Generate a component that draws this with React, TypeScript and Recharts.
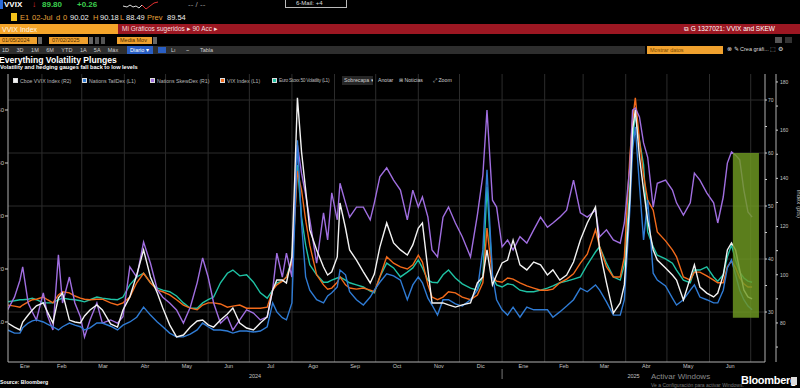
import React from "react";
import { ComposedChart, Line, XAxis, YAxis, ReferenceLine, ReferenceArea } from "recharts";

/* -------------------------------------------------------------------------- */
/*  Data — days since 1 Jan 2024                    */
/* -------------------------------------------------------------------------- */

const dayIdx = [
  6, 11, 15, 17, 21, 24, 27, 32, 35, 39,
  43, 46, 51, 55, 59, 62, 66, 71, 75, 81,
  86, 90, 95, 100, 105, 110, 115, 119, 124, 129,
  134, 139, 144, 148, 152, 156, 161, 166, 170, 175,
  180, 185, 190, 195, 199, 202, 206, 209, 213, 215,
  217, 220, 223, 226, 231, 236, 239, 242, 246, 248,
  252, 255, 260, 265, 270, 273, 277, 282, 287, 292,
  297, 301, 305, 308, 312, 315, 319, 323, 327, 332,
  337, 343, 348, 352, 355, 359, 362, 366, 370, 374,
  379, 384, 389, 394, 399, 403, 408, 413, 418, 423,
  428, 434, 437, 442, 447, 452, 455, 459, 461, 463,
  466, 469, 472, 476, 479, 485, 490, 493, 498, 503,
  506, 510, 515, 520, 523, 527, 530, 533, 536, 539,
  542, 545, 548,
];

// Cboe VVIX Index (R2)
const vvix = [
  80.0, 78.3, 77.1, 80.4, 83.3, 85.4, 87.1, 88.3, 84.6, 80.0,
  90.4, 92.4, 81.2, 80.4, 80.0, 82.9, 85.4, 87.5, 85.4, 79.6,
  78.3, 85.4, 90.8, 99.9, 110.3, 99.1, 92.4, 86.2, 79.2, 74.2,
  75.0, 78.3, 80.8, 81.2, 79.2, 78.3, 81.2, 83.7, 86.2, 80.0,
  77.9, 77.1, 80.0, 82.5, 93.7, 97.8, 97.8, 96.6, 107.4, 139.3,
  173.4, 151.0, 135.2, 118.6, 110.3, 103.2, 99.9, 101.2, 107.4, 129.8,
  119.4, 110.3, 106.1, 101.2, 96.6, 100.3, 111.5, 121.5, 113.2, 110.3,
  108.2, 112.4, 119.4, 121.5, 102.0, 88.3, 88.3, 88.3, 87.5, 86.6,
  87.5, 88.3, 96.6, 99.1, 110.3, 95.8, 99.9, 104.9, 106.1, 114.4,
  104.1, 102.0, 105.3, 104.1, 99.9, 102.0, 97.8, 99.9, 105.3, 114.4,
  121.5, 128.1, 110.3, 96.6, 84.1, 88.3, 95.8, 131.0, 160.1, 168.4,
  148.9, 135.2, 122.7, 110.3, 106.1, 102.8, 99.9, 97.8, 89.5, 98.7,
  104.1, 94.9, 92.4, 90.8, 92.4, 99.9, 110.3, 113.2, 110.3, 102.0,
  93.7, 90.8, 90.0,
];

// Nations TailDex (L1)
const tailDex = [
  8.5, 7.9, 7.9, 8.9, 9.8, 10.2, 10.4, 10.0, 9.6, 9.1,
  8.5, 9.1, 9.8, 9.4, 9.1, 8.5, 8.9, 9.8, 9.8, 9.2,
  8.5, 9.4, 10.0, 10.9, 12.8, 11.3, 10.0, 9.1, 7.9, 7.2,
  7.2, 7.7, 8.5, 9.8, 9.1, 8.5, 8.5, 8.3, 7.9, 8.3,
  8.3, 8.1, 8.3, 9.1, 13.6, 11.9, 10.8, 10.4, 13.6, 28.7,
  44.3, 28.7, 18.5, 16.0, 14.2, 13.6, 14.9, 15.5, 16.6, 19.8,
  18.9, 15.7, 14.2, 13.2, 14.7, 16.0, 17.5, 19.1, 18.7, 17.9,
  14.2, 17.0, 18.5, 17.4, 14.5, 13.2, 11.3, 14.2, 14.2, 13.4,
  13.0, 14.2, 16.0, 23.6, 38.7, 18.9, 14.2, 12.3, 11.3, 12.8,
  10.9, 12.8, 12.3, 12.3, 12.3, 10.9, 11.9, 13.0, 14.2, 16.4,
  15.7, 17.0, 16.0, 13.8, 11.3, 11.3, 14.2, 31.1, 42.5, 46.8,
  35.8, 25.5, 33.0, 19.2, 17.9, 16.8, 14.5, 13.2, 14.2, 16.0,
  17.0, 14.7, 14.2, 13.6, 13.6, 16.0, 20.2, 21.7, 18.9, 16.0,
  14.2, 13.0, 12.3,
];

// Nations SkewDex (R1)
const skewDex = [
  30.4, 32.8, 36.0, 38.5, 31.7, 30.0, 28.5, 33.6, 29.4, 26.6,
  40.8, 31.7, 36.6, 31.7, 29.1, 25.3, 28.5, 31.7, 27.9, 28.5,
  27.9, 29.1, 38.5, 36.6, 43.2, 39.2, 34.2, 32.8, 31.7, 30.4,
  27.9, 30.9, 35.5, 40.2, 36.6, 31.7, 27.9, 29.1, 26.6, 28.5,
  30.4, 29.8, 28.5, 29.1, 34.2, 41.1, 36.6, 41.1, 36.6, 50.6,
  61.5, 56.2, 52.1, 47.4, 39.2, 48.7, 43.6, 52.5, 47.4, 54.3,
  50.6, 47.9, 49.8, 49.8, 47.4, 50.6, 55.5, 57.2, 54.9, 53.0,
  47.4, 53.0, 49.8, 51.7, 47.9, 41.7, 40.4, 47.9, 49.8, 46.8,
  44.2, 40.4, 48.3, 55.8, 68.1, 51.1, 49.8, 42.3, 43.6, 41.7,
  44.2, 43.0, 45.5, 47.9, 46.0, 46.8, 47.9, 49.2, 54.9, 48.7,
  47.9, 49.2, 44.2, 45.5, 43.6, 43.0, 46.8, 57.4, 68.1, 68.5,
  66.8, 61.9, 59.2, 49.8, 54.3, 54.9, 53.0, 50.6, 48.3, 50.6,
  56.2, 54.9, 52.5, 50.6, 46.8, 51.7, 58.1, 60.2, 59.6, 58.7,
  53.0, 48.9, 47.9,
];

// VIX Index (L1)
const vix = [
  13.2, 13.0, 12.8, 13.2, 13.8, 14.2, 14.3, 14.7, 14.2, 13.6,
  15.1, 15.7, 15.5, 14.9, 14.5, 14.3, 14.2, 14.3, 14.3, 13.6,
  13.2, 13.6, 14.7, 17.4, 19.2, 17.4, 16.0, 15.7, 15.1, 14.2,
  13.2, 12.6, 12.3, 13.2, 13.6, 13.6, 13.4, 12.8, 13.0, 13.2,
  12.6, 12.6, 12.6, 12.8, 16.0, 17.0, 17.7, 18.5, 21.1, 29.2,
  38.5, 34.9, 29.2, 24.5, 18.9, 17.0, 16.2, 16.4, 17.5, 18.5,
  17.0, 16.4, 16.2, 16.4, 16.0, 15.7, 18.5, 22.3, 21.1, 20.4,
  20.0, 20.8, 22.6, 21.3, 17.0, 14.7, 14.2, 14.7, 15.7, 15.5,
  14.7, 14.2, 15.1, 17.4, 27.7, 18.5, 17.7, 17.5, 18.3, 18.1,
  17.4, 16.8, 16.4, 16.0, 16.0, 16.2, 17.4, 18.1, 19.1, 21.1,
  22.8, 27.4, 24.2, 20.4, 18.5, 18.5, 22.3, 41.1, 48.1, 52.3,
  44.3, 37.7, 33.0, 31.1, 27.0, 25.3, 23.6, 22.3, 18.5, 17.9,
  19.4, 19.4, 18.7, 17.9, 17.4, 17.4, 20.4, 21.5, 20.2, 18.3,
  17.2, 16.6, 16.6,
];

// Euro Stoxx 50 Volatility (L1)
const v2x = [
  13.8, 14.0, 14.2, 14.2, 14.3, 14.5, 14.2, 13.6, 13.6, 13.6,
  14.2, 14.5, 14.3, 14.2, 14.0, 13.8, 14.2, 14.7, 14.5, 14.3,
  14.2, 14.7, 17.0, 18.5, 19.2, 17.4, 16.4, 16.0, 15.7, 14.9,
  13.6, 12.6, 12.6, 13.6, 14.2, 14.7, 17.4, 19.2, 19.8, 18.7,
  18.9, 17.5, 15.5, 14.5, 16.0, 17.4, 17.7, 18.5, 21.7, 31.1,
  39.6, 29.8, 24.5, 20.8, 18.9, 17.5, 17.5, 17.9, 18.3, 18.5,
  17.9, 17.4, 17.0, 16.6, 15.8, 15.5, 18.5, 21.1, 20.2, 18.5,
  19.4, 20.2, 21.7, 20.2, 17.9, 17.5, 17.4, 18.9, 19.8, 18.3,
  17.2, 16.4, 16.0, 18.5, 35.5, 18.5, 17.0, 16.6, 17.2, 17.0,
  16.0, 15.7, 15.7, 16.0, 16.4, 16.8, 17.4, 17.7, 18.1, 18.5,
  20.8, 23.2, 24.2, 21.1, 18.5, 17.9, 20.8, 34.9, 44.3, 49.1,
  44.3, 39.6, 27.0, 24.2, 22.6, 21.9, 21.1, 19.8, 17.9, 17.4,
  19.8, 19.8, 20.4, 18.5, 17.7, 18.9, 22.3, 24.5, 21.7, 19.4,
  18.3, 17.7, 17.5,
];

const monthLabels = [
  "Ene", "Feb", "Mar", "Abr", "May", "Jun", "Jul", "Ago", "Sep",
  "Oct", "Nov", "Dic", "Ene", "Feb", "Mar", "Abr", "May", "Jun",
];
const yearLabels = ["2024", "2025"];

const leftTicks = [10, 20, 30, 40, 50];
const r1Ticks = [30, 35, 40, 45, 50, 55, 60, 65, 70];
const r2Ticks = [70, 80, 90, 100, 110, 120, 130, 140, 150, 160, 170, 180];

// highlighted window at the end (late June 2025)
const highlight = { x1: 534, x2: 553, y1: 28.9, y2: 60 };

/* -------------------------------------------------------------------------- */
/*  Derived                                                                    */
/* -------------------------------------------------------------------------- */

const DAY0 = Date.UTC(2024, 0, 1);
const toDay = (y: number, m: number) => (Date.UTC(y, m, 1) - DAY0) / 86400000;

const X_DOMAIN: [number, number] = [6.3, 557.4];
const monthStarts = Array.from({ length: 19 }, (_, i) => toDay(2024, i));
const monthMids = monthLabels.map(
  (_, i) =>
    (Math.max(monthStarts[i], X_DOMAIN[0]) + Math.min(monthStarts[i + 1], X_DOMAIN[1])) / 2
);
const yearStart2025 = toDay(2025, 0);
const yearTicks = [
  (X_DOMAIN[0] + yearStart2025) / 2,
  yearStart2025,
  (yearStart2025 + X_DOMAIN[1]) / 2,
];

const data = dayIdx.map((d, i) => ({
  d,
  vvix: vvix[i],
  tailDex: tailDex[i],
  skewDex: skewDex[i],
  vix: vix[i],
  v2x: v2x[i],
}));

const series = [
  { key: "v2x", name: "Euro Stoxx 50 Volatility (L1)", color: "#1fc2a4", axis: "L" },
  { key: "vix", name: "VIX Index (L1)", color: "#f26a1b", axis: "L" },
  { key: "skewDex", name: "Nations SkewDex (R1)", color: "#a06ee0", axis: "R1" },
  { key: "tailDex", name: "Nations TailDex (L1)", color: "#2f7bd4", axis: "L" },
  { key: "vvix", name: "Cboe VVIX Index (R2)", color: "#f2f2f2", axis: "R2" },
];
const legendOrder = ["vvix", "tailDex", "skewDex", "vix", "v2x"];

/* -------------------------------------------------------------------------- */
/*  Small UI bits                                                              */
/* -------------------------------------------------------------------------- */

const FONT = "'Liberation Sans', Arial, sans-serif";
const AXIS_TXT = "#c4c4c4";

function Txt({ x, y, size = 6, color = "#ddd", bold = false, children, style = {} }: any) {
  return (
    <div
      style={{
        position: "absolute",
        left: x,
        top: y,
        fontSize: size,
        color,
        fontWeight: bold ? 700 : 400,
        whiteSpace: "nowrap",
        lineHeight: 1,
        ...style,
      }}
    >
      {children}
    </div>
  );
}

function Box({ x, y, w, h, bg, children, style = {} }: any) {
  return (
    <div
      style={{
        position: "absolute",
        left: x,
        top: y,
        width: w,
        height: h,
        background: bg,
        overflow: "hidden",
        whiteSpace: "nowrap",
        ...style,
      }}
    >
      {children}
    </div>
  );
}

function YearTick({ x, y, payload }: any) {
  if (payload.value === yearStart2025) {
    return <line x1={x} x2={x} y1={y - 5} y2={y + 5} stroke="#777" strokeWidth={1} />;
  }
  return (
    <text x={x} y={y} dy="0.71em" textAnchor="middle" fontSize={5.5} fill={AXIS_TXT}>
      {payload.value < yearStart2025 ? yearLabels[0] : yearLabels[1]}
    </text>
  );
}

function Header() {
  const lab = "#e8a23a";
  const legendX = [13, 82, 150, 220, 272];
  return (
    <>
      {/* row 1 */}
      <Box x={0} y={0} w={3} h={9} bg="#2a6ad8" />
      <Txt x={4} y={1} size={8} color="#fff" bold>VVIX</Txt>
      <Txt x={32} y={1} size={8} color="#e03030" bold>↓</Txt>
      <Txt x={42} y={1} size={8} color="#3ccf4e" bold>89.80</Txt>
      <Txt x={77} y={1} size={8} color="#3ccf4e" bold>+0.26</Txt>
      <svg style={{ position: "absolute", left: 123, top: 0 }} width={36} height={11}>
        <path d="M0 6 L4 7 L7 5 L10 7 L13 6 L16 8 L19 5" stroke="#ddd" fill="none" strokeWidth={1} />
        <path d="M19 5 L23 9 L27 6 L31 3 L35 2" stroke="#e03030" fill="none" strokeWidth={1} />
      </svg>
      <Txt x={188} y={1} size={8} color="#999">-- / --</Txt>
      <Box x={285} y={-2} w={62} h={10} bg="#000" style={{ border: "1px solid #bbb", boxSizing: "border-box" }}>
        <Txt x={10} y={1} size={6} color="#ddd">6-Mail: +4</Txt>
      </Box>

      {/* row 2 */}
      <Box x={11} y={13} w={6} h={8} bg="#f4c21b" />
      <Txt x={20} y={14} size={7.5} color={lab}>E1</Txt>
      <Txt x={32} y={14} size={7.5} color={lab}>02-Jul</Txt>
      <Txt x={56} y={14} size={7.5} color={lab}>d</Txt>
      <Txt x={63} y={14} size={7.5} color={lab}>0</Txt>
      <Txt x={70} y={14} size={7.5} color="#eee">90.02</Txt>
      <Txt x={93} y={14} size={7.5} color={lab}>H</Txt>
      <Txt x={100} y={14} size={7.5} color="#eee">90.18</Txt>
      <Txt x={120} y={14} size={7.5} color={lab}>L</Txt>
      <Txt x={126} y={14} size={7.5} color="#eee">88.49</Txt>
      <Txt x={147} y={14} size={7.5} color={lab}>Prev</Txt>
      <Txt x={167} y={14} size={7.5} color="#eee">89.54</Txt>

      {/* row 3 */}
      <Box x={0} y={24} w={118} h={10} bg="#f5a52a">
        <Txt x={2} y={2} size={7} color="#fff6e6">VVIX Index</Txt>
      </Box>
      <Box x={118} y={24} w={682} h={10} bg="#9c1722">
        <Txt x={4} y={2} size={6.5} color="#f3dede">Mi Gráficos sugeridos ▸  90 Acc ▸</Txt>
        <Txt x={566} y={2} size={6.5} color="#fff">⧉  G 1327021: VVIX and SKEW</Txt>
      </Box>

      {/* row 4 */}
      <Box x={0} y={37} w={37} h={7} bg="#f0a12e">
        <Txt x={2} y={1} size={5.5} color="#4a2a00">01/05/2024</Txt>
      </Box>
      <Box x={38} y={37} w={4} h={7} bg="#666" />
      <Box x={49} y={37} w={39} h={7} bg="#f0a12e">
        <Txt x={3} y={1} size={5.5} color="#4a2a00">07/02/2025</Txt>
      </Box>
      <Box x={89} y={37} w={4} h={7} bg="#666" />
      <Box x={95} y={37} w={4} h={7} bg="#555" />
      <Box x={101} y={37} w={4} h={7} bg="#555" />
      <Box x={117} y={37} w={35} h={7} bg="#f0a12e">
        <Txt x={3} y={1} size={5.5} color="#4a2a00">Media Mov</Txt>
      </Box>
      <Box x={153} y={37} w={4} h={7} bg="#666" />
      <Box x={775} y={37} w={7} h={6} bg="#555" />
      <Box x={785} y={37} w={7} h={6} bg="#333" />

      {/* row 5 */}
      <Box x={0} y={46} w={645} h={8} bg="#2e2e2e">
        <Txt x={2} y={1.5} size={5.5} color="#cfcfcf" style={{ wordSpacing: 6 }}>
          1D 3D 1M 6M YTD 1A 5A Máx
        </Txt>
        <Box x={127} y={0} w={26} h={8} bg="#2a5fc4">
          <Txt x={3} y={1.5} size={5.5} color="#fff">Diario ▾</Txt>
        </Box>
        <Box x={158} y={1} w={8} h={6} bg="#2a5fc4" />
        <Txt x={171} y={1.5} size={5.5} color="#cfcfcf">Lı</Txt>
        <Txt x={186} y={1.5} size={5.5} color="#cfcfcf">~</Txt>
        <Txt x={200} y={1.5} size={5.5} color="#cfcfcf">Tabla</Txt>
      </Box>
      <Box x={647} y={46} w={76} h={8} bg="#f0a12e">
        <Txt x={3} y={1.5} size={5.5} color="#7a4a00">Mostrar datos</Txt>
      </Box>
      <Txt x={727} y={47} size={5.5} color="#ddd">⊗ ✎ Crea gráfi...  ⬚  ⚙</Txt>

      {/* titles */}
      <Txt x={-1} y={55.5} size={8.6} color="#fff" bold>Everything Volatility Plunges</Txt>
      <Txt x={0} y={65} size={5.6} color="#fff" bold>
        Volatility and hedging gauges fall back to low levels
      </Txt>

      {/* legend */}
      {legendOrder.map((k, i) => {
        const s = series.find((x) => x.key === k)!;
        const lx = legendX[i];
        const last = i === legendOrder.length - 1;
        return (
          <React.Fragment key={k}>
            <Box x={lx} y={78} w={5} h={5} bg={s.color} style={{ border: "0.5px solid #ddd", boxSizing: "border-box" }} />
            <Txt
              x={lx + 7}
              y={78.5}
              size={last ? 4.8 : 5.2}
              color="#b8b8b8"
              style={last ? { letterSpacing: -0.3 } : {}}
            >
              {last ? s.name : s.name.replace(" (", "  (")}
            </Txt>
          </React.Fragment>
        );
      })}
      <Box x={342} y={76} w={31} h={9} bg="#262626">
        <Txt x={2} y={2} size={5.2} color="#cfcfcf">Sobrecapa ▾</Txt>
      </Box>
      <Txt x={378} y={78} size={5.2} color="#cfcfcf">Anotar</Txt>
      <Txt x={399} y={78} size={5.2} color="#cfcfcf">⊞ Noticias</Txt>
      <Txt x={433} y={78} size={5.2} color="#cfcfcf">⤢ Zoom</Txt>
    </>
  );
}

function Footer() {
  return (
    <>
      <Txt x={0} y={380} size={5.2} color="#fff" bold>Source: Bloomberg</Txt>
      <Txt x={651} y={373} size={8} color="#8a8a8a">Activar Windows</Txt>
      <Txt x={651} y={383} size={5} color="#777">Ve a Configuración para activar Windows.</Txt>
      <Txt x={741} y={375} size={11} color="#fff" bold style={{ letterSpacing: -0.3 }}>Bloomberg</Txt>
      <Box x={791} y={377} w={6} h={8} bg="#ddd" />
    </>
  );
}

/* -------------------------------------------------------------------------- */
/*  App                                                                        */
/* -------------------------------------------------------------------------- */

export default function App() {
  return (
    <div
      style={{
        position: "absolute",
        left: 0,
        top: 0,
        width: 800,
        height: 388,
        background: "#000",
        overflow: "hidden",
        fontFamily: FONT,
      }}
    >
      <div style={{ position: "absolute", left: 0, top: 0 }}>
        <ComposedChart
          width={800}
          height={388}
          data={data}
          margin={{ top: 74, right: 0, bottom: 6, left: 0 }}
          style={{ fontFamily: FONT }}
        >
          <XAxis
            type="number"
            dataKey="d"
            domain={X_DOMAIN}
            allowDataOverflow
            ticks={monthMids}
            interval={0}
            tickFormatter={(_v: number, i: number) => monthLabels[i]}
            tickLine={false}
            axisLine={{ stroke: "#b0b0b0" }}
            tick={{ fontSize: 5.5, fill: AXIS_TXT }}
            tickSize={2}
            tickMargin={0}
            height={10}
          />
          <XAxis
            xAxisId="yr"
            type="number"
            dataKey="d"
            domain={X_DOMAIN}
            allowDataOverflow
            ticks={yearTicks}
            interval={0}
            tick={<YearTick />}
            tickLine={false}
            axisLine={false}
            tickSize={2}
            tickMargin={0}
            height={10}
          />
          <YAxis
            yAxisId="L"
            orientation="left"
            domain={[2.45, 56.79]}
            allowDataOverflow
            ticks={leftTicks}
            interval={0}
            width={8}
            tickSize={3}
            tickMargin={1}
            axisLine={{ stroke: "#b0b0b0" }}
            tickLine={{ stroke: "#d0d0d0" }}
            tick={{ fontSize: 6, fill: AXIS_TXT }}
          />
          <YAxis
            yAxisId="R1"
            orientation="right"
            domain={[20.57, 74.91]}
            allowDataOverflow
            ticks={r1Ticks}
            interval={0}
            width={11}
            tickSize={2}
            tickMargin={1}
            tickFormatter={(v: number) => (v % 10 === 0 ? String(v) : "")}
            axisLine={{ stroke: "#b0b0b0" }}
            tickLine={{ stroke: "#d0d0d0" }}
            tick={{ fontSize: 5, fill: AXIS_TXT }}
          />
          <YAxis
            yAxisId="R2"
            orientation="right"
            domain={[63.8, 183.3]}
            allowDataOverflow
            ticks={r2Ticks}
            interval={0}
            width={24}
            tickSize={2}
            tickMargin={2}
            tickFormatter={(v: number) => (v % 20 === 0 ? String(v) : "")}
            axisLine={{ stroke: "#b0b0b0" }}
            tickLine={{ stroke: "#d0d0d0" }}
            tick={{ fontSize: 5, fill: AXIS_TXT }}
            label={{
              value: "Index (pts)",
              angle: 90,
              position: "insideRight",
              offset: 1,
              fontSize: 6,
              fill: AXIS_TXT,
            }}
          />

          {/* grid: month boundaries and R1 levels */}
          {monthStarts
            .filter((m) => m > X_DOMAIN[0] && m < X_DOMAIN[1])
            .map((m) => (
              <ReferenceLine key={`m${m}`} x={m} yAxisId="L" stroke="#2c2c2c" strokeWidth={1} />
            ))}
          {[30, 40, 50, 60, 70].map((v) => (
            <ReferenceLine key={`h${v}`} y={v} yAxisId="R1" stroke="#2c2c2c" strokeWidth={1} />
          ))}

          {series.map((s) => (
            <Line
              key={s.key}
              yAxisId={s.axis}
              type="linear"
              dataKey={s.key}
              name={s.name}
              stroke={s.color}
              strokeWidth={1.4}
              dot={false}
              isAnimationActive={false}
            />
          ))}

          <ReferenceArea
            yAxisId="R1"
            x1={highlight.x1}
            x2={highlight.x2}
            y1={highlight.y1}
            y2={highlight.y2}
            fill="#6f9a22"
            fillOpacity={0.82}
            stroke="none"
            ifOverflow="visible"
            zIndex={900}
          />
        </ComposedChart>
      </div>
      <Header />
      <Footer />
    </div>
  );
}
